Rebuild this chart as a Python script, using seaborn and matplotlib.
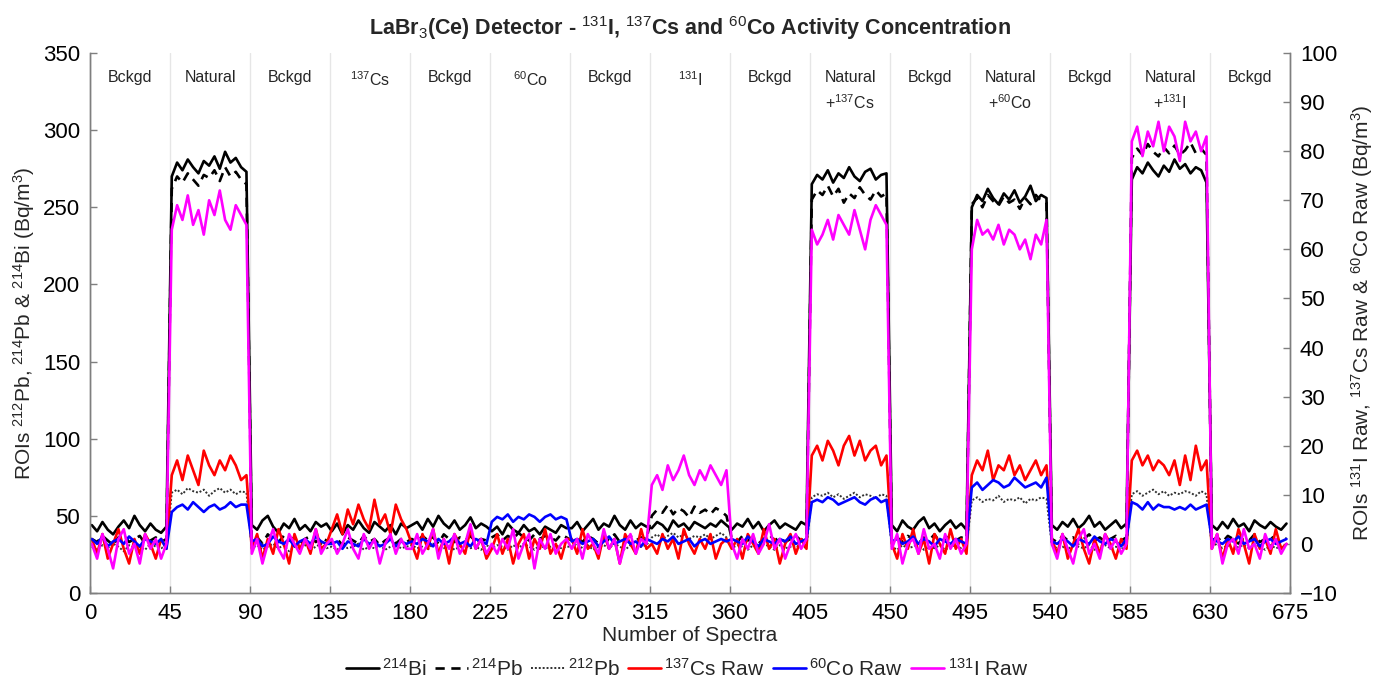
import numpy as np
import pandas as pd
import matplotlib
matplotlib.use("Agg")
import matplotlib.pyplot as plt
import seaborn as sns
from matplotlib.lines import Line2D

# Every third spectrum of the 675-spectrum run
spectrum = np.arange(1, 676, 3)

# Left axis: ROI activity concentrations (Bq/m3)
bi214 = [
    44, 40, 46, 41, 38, 43, 47, 42, 50, 44, 40, 45, 41, 39, 43,
    270, 279, 274, 281, 276, 272, 280, 277, 283, 275, 286, 279, 282, 276, 273,
    44, 41, 47, 50, 43, 39, 45, 42, 48, 41, 44, 40, 46, 43, 45,
    40, 45, 38, 44, 41, 47, 42, 39, 46, 43, 40, 44, 38, 45, 42,
    44, 46, 41, 48, 43, 50, 45, 42, 47, 41, 44, 49, 42, 45, 43,
    40, 43, 38, 45, 41, 39, 44, 40, 42, 38, 43, 41, 39, 44, 42,
    42, 46, 40, 44, 48, 41, 45, 43, 50, 44, 41, 47, 42, 45, 43,
    42, 46, 44, 40, 47, 43, 45, 41, 46, 44, 42, 45, 43, 47, 44,
    41, 45, 43, 48, 42, 46, 40, 44, 47, 42, 45, 43, 41, 46, 44,
    265, 271, 268, 274, 266, 272, 269, 276, 270, 267, 273, 275, 268, 271, 272,
    44, 40, 47, 43, 41, 46, 49, 42, 45, 40, 44, 47, 42, 45, 41,
    250, 258, 254, 262, 256, 252, 259, 255, 261, 253, 257, 264, 254, 258, 256,
    44, 41, 46, 43, 48, 42, 45, 50, 43, 46, 41, 44, 47, 42, 45,
    268, 276, 272, 279, 274, 270, 277, 273, 281, 275, 278, 272, 276, 274, 266,
    44, 41, 46, 42, 48, 43, 45, 40, 47, 44, 42, 46, 43, 41, 45,
]
pb214 = [
    35, 33, 37, 34, 31, 36, 38, 33, 35, 37, 32, 34, 36, 33, 35,
    262, 270, 266, 272, 268, 264, 271, 269, 274, 267, 276, 270, 273, 268, 265,
    34, 36, 32, 38, 35, 33, 37, 34, 36, 32, 35, 37, 33, 36, 34,
    33, 35, 31, 36, 34, 32, 37, 33, 35, 31, 34, 36, 32, 35, 33,
    35, 33, 37, 34, 36, 32, 38, 35, 33, 36, 34, 37, 33, 35, 34,
    36, 38, 34, 37, 35, 39, 36, 34, 38, 35, 37, 36, 34, 38, 36,
    34, 36, 33, 37, 35, 32, 36, 34, 38, 33, 35, 37, 34, 36, 35,
    50, 54, 52, 57, 51, 55, 53, 49, 56, 52, 54, 51, 55, 53, 50,
    35, 33, 37, 34, 36, 32, 35, 38, 34, 36, 33, 35, 37, 34, 36,
    255, 261, 258, 264, 257, 262, 253, 259, 256, 263, 258, 255, 261, 257, 259,
    34, 36, 33, 37, 35, 32, 36, 34, 38, 33, 35, 37, 34, 36, 35,
    252, 256, 250, 258, 254, 251, 257, 253, 255, 249, 256, 252, 258, 254, 253,
    35, 33, 37, 34, 36, 32, 35, 38, 34, 36, 33, 35, 37, 34, 36,
    282, 288, 284, 291, 286, 283, 289, 285, 290, 284, 287, 292, 285, 288, 284,
    34, 36, 33, 37, 35, 32, 36, 34, 38, 33, 35, 37, 34, 36, 35,
]
pb212 = [
    30, 28, 31, 29, 32, 30, 27, 31, 29, 30, 28, 32, 30, 29, 31,
    65, 67, 64, 68, 66, 65, 67, 63, 66, 68, 65, 67, 64, 66, 65,
    29, 31, 28, 30, 32, 29, 31, 27, 30, 29, 31, 28, 30, 32, 29,
    30, 28, 31, 29, 30, 32, 28, 30, 29, 31, 28, 30, 31, 29, 30,
    31, 29, 30, 28, 32, 30, 29, 31, 28, 30, 31, 29, 30, 28, 31,
    29, 31, 30, 28, 31, 29, 32, 30, 28, 31, 29, 30, 31, 29, 30,
    30, 32, 29, 31, 28, 30, 31, 29, 32, 30, 28, 31, 29, 30, 31,
    36, 38, 35, 37, 39, 36, 38, 35, 37, 36, 38, 35, 37, 39, 36,
    29, 31, 30, 28, 31, 29, 32, 30, 28, 31, 29, 30, 31, 29, 30,
    62, 64, 63, 65, 62, 64, 61, 63, 65, 62, 64, 63, 61, 64, 63,
    30, 28, 31, 29, 30, 32, 28, 30, 29, 31, 28, 30, 31, 29, 30,
    60, 62, 59, 61, 60, 63, 59, 61, 60, 62, 58, 61, 60, 62, 61,
    31, 29, 30, 28, 32, 30, 29, 31, 28, 30, 31, 29, 30, 28, 31,
    64, 66, 63, 65, 67, 64, 66, 63, 65, 64, 66, 65, 63, 66, 64,
    30, 32, 29, 31, 28, 30, 31, 29, 32, 30, 28, 31, 29, 30, 31,
]

# Right axis: raw ROI activity concentrations (Bq/m3)
cs137_raw = [
    1, -2, 2, -3, 0, 3, -1, -4, 1, -2, 2, 0, -3, 1, -1,
    14, 17, 13, 18, 15, 12, 19, 16, 14, 17, 15, 18, 16, 13, 14,
    -1, 2, -3, 1, -2, 3, 0, -4, 2, -1, 1, -2, 3, -1, 0,
    3, 6, 2, 7, 4, 8, 5, 3, 9, 4, 6, 2, 8, 5, 3,
    0, -3, 2, -1, 3, -2, 1, -4, 2, 0, -2, 3, -1, 1, -3,
    -1, 2, -2, 1, -4, 0, 2, -3, 1, -1, 3, -2, 0, -3, 1,
    1, -2, 3, -1, 0, -3, 2, -1, 1, -4, 2, 0, -2, 3, -1,
    0, -2, 2, -1, 1, -3, 3, 0, -2, 1, -1, 2, -3, 0, 1,
    -1, 1, -3, 2, 0, -2, 3, -1, 1, -4, 0, 2, -2, 1, -1,
    18, 20, 17, 21, 19, 16, 20, 22, 18, 21, 17, 19, 20, 16, 18,
    0, -3, 2, -1, 3, -2, 1, -4, 2, 0, -2, 3, -1, 1, -2,
    14, 17, 15, 19, 13, 16, 15, 18, 14, 16, 13, 15, 17, 14, 16,
    1, -2, 2, -3, 0, 3, -1, -4, 1, -2, 2, 0, -3, 1, -1,
    17, 19, 16, 18, 15, 17, 16, 14, 17, 12, 18, 13, 20, 15, 17,
    -1, 2, -3, 1, -2, 3, 0, -4, 2, -1, 1, -2, 3, -1, 0,
]
co60_raw = [
    1.0, 0.0, 1.5, -0.5, 0.5, 1.0, 0.0, 1.5, 0.5, -0.5, 1.0, 0.5, 0.0, 1.0, -1.0,
    6.5, 7.5, 8.0, 7.0, 8.5, 7.5, 6.5, 7.5, 8.0, 7.0, 7.5, 8.5, 7.5, 8.0, 8.0,
    0.5, 1.0, -0.5, 0.0, 1.5, 0.5, 0.0, 1.0, -0.5, 0.5, 1.0, 0.0, 1.5, 0.5, 0.0,
    0.0, 0.5, -1.0, 0.5, 0.0, -0.5, 1.0, 0.0, 0.5, -0.5, 0.0, 1.0, -0.5, 0.5, 0.0,
    0.5, 0.0, 1.0, 0.5, -0.5, 1.0, 0.0, 0.5, 1.5, 0.0, 0.5, -0.5, 1.0, 0.5, 0.0,
    4.5, 5.5, 5.0, 6.0, 4.5, 5.5, 5.0, 6.0, 5.5, 4.5, 5.5, 6.0, 5.0, 5.5, 5.0,
    0.5, 1.0, 0.0, 0.5, 1.0, -0.5, 0.5, 1.5, 0.0, 0.5, 1.0, 0.0, 0.5, -0.5, 1.0,
    0.5, 0.0, 1.0, 0.5, 1.5, 0.0, 0.5, 1.0, -0.5, 0.5, 1.0, 0.0, 0.5, 1.0, 0.5,
    1.0, 0.5, 0.0, 1.5, 0.5, -0.5, 1.0, 0.5, 0.0, 1.0, 0.5, 1.5, 0.0, 0.5, 1.0,
    8.5, 9.0, 8.5, 9.5, 9.0, 8.0, 8.5, 9.0, 9.5, 8.5, 8.0, 9.0, 9.5, 8.5, 9.0,
    0.5, 1.0, 0.0, 0.5, 1.5, 0.0, 1.0, 0.5, -0.5, 1.0, 0.5, 0.0, 1.0, 0.5, 0.0,
    11.5, 12.5, 11.0, 12.0, 13.0, 12.5, 11.5, 12.0, 13.5, 12.5, 11.5, 12.0, 12.5, 11.5, 13.5,
    0.5, 0.0, 1.0, 0.5, -0.5, 1.0, 0.5, 0.0, 1.5, 0.5, 0.0, 1.0, 0.5, -0.5, 1.0,
    8.5, 8.0, 7.0, 8.5, 7.0, 8.0, 7.5, 7.5, 7.0, 7.5, 7.0, 8.0, 7.0, 7.5, 8.0,
    1.0, 0.5, 0.0, 1.0, 0.5, 1.5, 0.0, 0.5, 1.0, -0.5, 0.5, 1.0, 0.0, 0.5, 1.0,
]
i131_raw = [
    0, -3, 2, -1, -5, 1, 3, -2, 0, -4, 2, -1, 1, -3, 0,
    64, 69, 66, 71, 65, 68, 63, 70, 67, 72, 66, 64, 69, 67, 65,
    -2, 1, -4, 0, 3, -1, -3, 2, 0, -2, 1, -1, 3, -2, 0,
    1, -2, 0, 3, -1, -3, 2, -1, 1, -4, 0, 2, -2, 1, -1,
    -1, 2, -2, 0, 3, -3, 1, -1, 2, -2, 0, 4, -1, 1, -2,
    0, -2, 1, -1, 3, -3, 0, 2, -5, 1, -1, 2, -2, 0, 1,
    -1, 1, -3, 2, 0, -2, 3, -1, 1, -4, 0, 2, -2, 1, 0,
    12, 14, 11, 16, 13, 15, 18, 14, 12, 15, 13, 16, 14, 12, 15,
    0, -3, 1, -1, 2, -2, 0, 4, -1, 1, -3, 0, 2, -1, 1,
    64, 61, 63, 66, 62, 67, 65, 63, 68, 64, 60, 66, 69, 67, 65,
    -1, 2, -4, 0, 1, -2, 3, -1, 0, -3, 2, -1, 1, -2, 0,
    60, 66, 63, 64, 62, 65, 61, 64, 63, 60, 62, 58, 63, 61, 66,
    0, -3, 2, -1, -4, 1, 3, -2, 0, -3, 2, -1, 1, -2, 0,
    82, 85, 79, 84, 81, 86, 80, 85, 83, 78, 86, 82, 84, 80, 83,
    -1, 2, -4, 0, 1, -2, 3, -1, 0, -3, 2, -1, 1, -2, 0,
]

# Measurement phases, one per 45 spectra
phase_labels = [
    "Bckgd", "Natural", "Bckgd", "$^{137}$Cs", "Bckgd", "$^{60}$Co", "Bckgd",
    "$^{131}$I", "Bckgd", "Natural\n+$^{137}$Cs", "Bckgd", "Natural\n+$^{60}$Co",
    "Bckgd", "Natural\n+$^{131}$I", "Bckgd",
]
phase_len = 45

sns.set_style("ticks")
plt.rcParams["font.family"] = ["Liberation Sans", "DejaVu Sans"]
plt.rcParams["mathtext.fontset"] = "custom"
plt.rcParams["mathtext.rm"] = "Liberation Sans"
plt.rcParams["mathtext.it"] = "Liberation Sans:italic"
plt.rcParams["mathtext.bf"] = "Liberation Sans:bold"

left_df = pd.DataFrame({"spectrum": spectrum, "bi214": bi214,
                        "pb214": pb214, "pb212": pb212})
right_df = pd.DataFrame({"spectrum": spectrum, "cs137": cs137_raw,
                         "co60": co60_raw, "i131": i131_raw})

fig = plt.figure(figsize=(13.74, 6.95), dpi=100)
ax = fig.add_axes([0.0655, 0.1468, 0.8734, 0.7769])
ax2 = ax.twinx()

lw = 1.9
dash = (0, (3.5, 2.5))
dot = (0, (1, 1))
sns.lineplot(data=left_df, x="spectrum", y="pb212", ax=ax, color="#303030",
             lw=1.4, linestyle=dot, estimator=None)
sns.lineplot(data=left_df, x="spectrum", y="pb214", ax=ax, color="black",
             lw=lw, linestyle=dash, estimator=None)
sns.lineplot(data=left_df, x="spectrum", y="bi214", ax=ax, color="black",
             lw=lw, estimator=None)

sns.lineplot(data=right_df, x="spectrum", y="cs137", ax=ax2, color="#ff0000",
             lw=lw, estimator=None)
sns.lineplot(data=right_df, x="spectrum", y="co60", ax=ax2, color="#0000ff",
             lw=lw, estimator=None)
sns.lineplot(data=right_df, x="spectrum", y="i131", ax=ax2, color="#ff00ff",
             lw=lw, estimator=None)

edges = np.arange(0, phase_len * len(phase_labels) + 1, phase_len)
ax.set_xlim(edges[0], edges[-1])
ax.set_ylim(0, 350)
ax2.set_ylim(-10, 100)
ax.set_xticks(edges)
ax.set_yticks(np.arange(0, 351, 50))
ax2.set_yticks(np.arange(-10, 101, 10))

ax.grid(axis="x", color="#e6e6e6", lw=1.0)
ax.grid(axis="y", visible=False)
ax2.grid(False)

spine_col = "#7f7f7f"
for a in (ax, ax2):
    a.spines["top"].set_visible(False)
    for s in ("left", "right", "bottom"):
        a.spines[s].set_color(spine_col)
        a.spines[s].set_linewidth(1.0)
    a.tick_params(direction="in", length=5, width=1.0, color=spine_col,
                  labelsize=16, labelcolor="black", pad=7)

ax.set_xlabel("Number of Spectra", fontsize=15, color="#262626", labelpad=2)
ax.set_ylabel("ROIs $^{212}$Pb, $^{214}$Pb & $^{214}$Bi (Bq/m$^3$)",
              fontsize=15, color="#262626", labelpad=4)
ax2.set_ylabel("ROIs $^{131}$I Raw, $^{137}$Cs Raw & $^{60}$Co Raw (Bq/m$^3$)",
               fontsize=15, color="#262626", rotation=90, labelpad=8)
ax.set_title("LaBr$_3$(Ce) Detector - $^{131}$I, $^{137}$Cs and $^{60}$Co "
             "Activity Concentration", fontsize=15.5, fontweight="bold", pad=13)

for i, lab in enumerate(phase_labels):
    ax.text(edges[i] + phase_len / 2, 339, lab, ha="center", va="top",
            fontsize=11.5, linespacing=1.5)

handles = [
    Line2D([], [], color="black", lw=lw),
    Line2D([], [], color="black", lw=lw, linestyle=dash),
    Line2D([], [], color="#303030", lw=1.4, linestyle=dot),
    Line2D([], [], color="#ff0000", lw=lw),
    Line2D([], [], color="#0000ff", lw=lw),
    Line2D([], [], color="#ff00ff", lw=lw),
]
labels = ["$^{214}$Bi", "$^{214}$Pb", "$^{212}$Pb", "$^{137}$Cs Raw",
          "$^{60}$Co Raw", "$^{131}$I Raw"]
fig.legend(handles, labels, loc="lower center", bbox_to_anchor=(0.5, -0.005),
           ncol=6, frameon=False, fontsize=15, handlelength=1.6,
           handletextpad=0.15, columnspacing=0.4)

fig.savefig("out.png", dpi=100)
